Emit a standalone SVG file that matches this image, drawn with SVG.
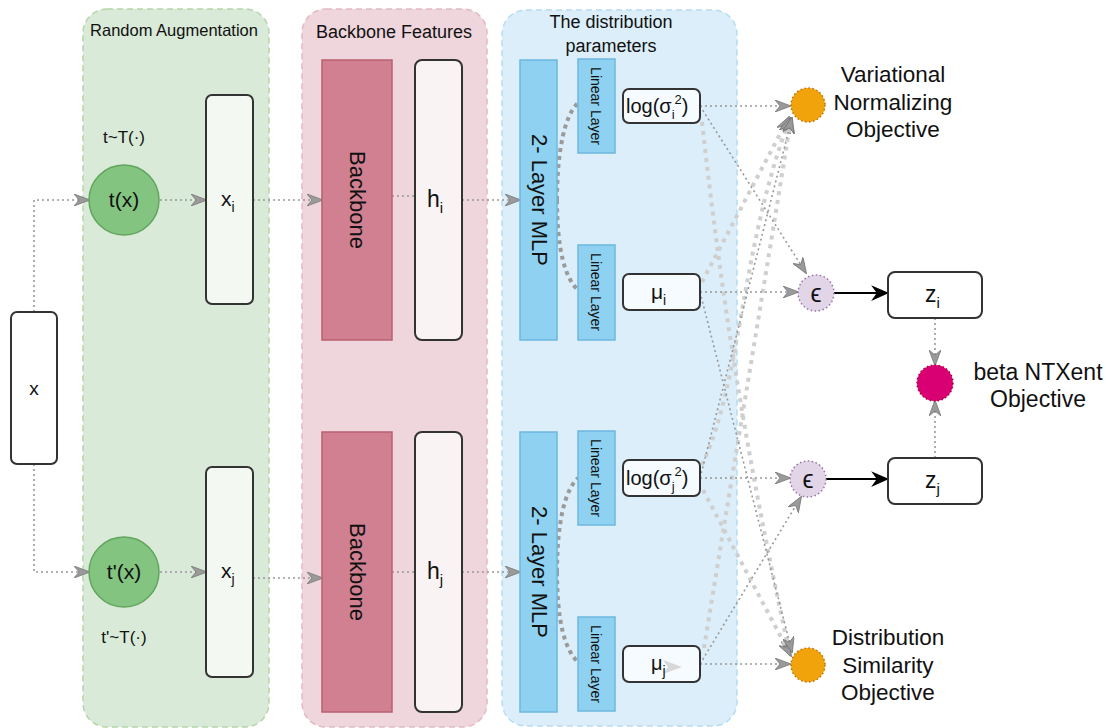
<svg xmlns="http://www.w3.org/2000/svg" width="1106" height="728" viewBox="0 0 1106 728">
  <defs>
    <style>
      text { font-family: "Liberation Sans", Arial, sans-serif; fill: #111; }
      .grp-green { fill: #d5e8d4; fill-opacity: 0.9; stroke: #b5d6a6; stroke-width: 1.5; stroke-dasharray: 6 4; }
      .grp-pink { fill: #efd6dc; stroke: #e3b9c2; stroke-width: 1.5; stroke-dasharray: 6 4; }
      .grp-blue { fill: #dbeef9; stroke: #b7dcf1; stroke-width: 1.5; stroke-dasharray: 6 4; }
      .box { stroke: #333; stroke-width: 2; }
      .backbone { fill: #d08090; stroke: #b86070; stroke-width: 1.5; }
      .mlp { fill: #8fd1f0; stroke: #6db7e0; stroke-width: 1.5; }
      .aug { fill: #83c480; stroke: #62a55e; stroke-width: 1.5; }
      .orange { fill: #f0a30a; stroke: #bd7000; stroke-width: 1.5; stroke-dasharray: 1.5 2.5; }
      .eps { fill: #e1d5e7; stroke: #9673a6; stroke-width: 1.5; stroke-dasharray: 1.5 2.5; }
      .beta { fill: #d80073; stroke: #a50040; stroke-width: 1.5; stroke-dasharray: 1.5 2.5; }
      .dot { fill: none; stroke: #999; stroke-width: 1.6; stroke-dasharray: 2 3; }
      .heavy { fill: none; stroke: #9a9a9a; stroke-width: 4; stroke-dasharray: 4 4; }
      .light { fill: none; stroke: #cfcfcf; stroke-width: 4; stroke-dasharray: 4 5; }
      .solid { fill: none; stroke: #000; stroke-width: 2; }
      .lbl { font-size: 21px; text-anchor: middle; }
      .vlbl { font-size: 22px; text-anchor: middle; dominant-baseline: central; }
      .lin { font-size: 14px; text-anchor: middle; dominant-baseline: central; }
      .obj { font-size: 22.5px; text-anchor: middle; }
      .title { font-size: 18px; text-anchor: middle; }
    </style>
    <marker id="arr" viewBox="0 0 16 12" refX="15" refY="6" markerWidth="16" markerHeight="12" markerUnits="userSpaceOnUse" orient="auto">
      <path d="M0,0 L16,6 L0,12 L5,6 Z" fill="#9a9a9a" stroke="#777" stroke-width="0.8"/>
    </marker>
    <marker id="arrBlack" viewBox="0 0 16 14" refX="15" refY="7" markerWidth="18" markerHeight="16" markerUnits="userSpaceOnUse" orient="auto">
      <path d="M0,0 L16,7 L0,14 L5,7 Z" fill="#000"/>
    </marker>
  </defs>

  <rect width="1106" height="728" fill="#fff"/>

  <!-- stage containers -->
  <g id="random-augmentation">
    <rect class="grp-green" x="83" y="9" width="186" height="718" rx="24"/>
    <text class="title" x="174" y="36" style="font-size:16.5px">Random Augmentation</text>
  </g>
  <g id="backbone-features">
    <rect class="grp-pink" x="302" y="9" width="185" height="718" rx="24"/>
    <text class="title" x="394" y="38">Backbone Features</text>
  </g>
  <g id="distribution-parameters">
    <rect class="grp-blue" x="502" y="10" width="235" height="716" rx="24"/>
    <text class="title" x="611" y="28">The distribution</text>
    <text class="title" x="611" y="52">parameters</text>
  </g>

  <!-- connectors -->
  <g id="connectors">
    <path class="dot" d="M34,312 V200 H89" marker-end="url(#arr)"/>
    <path class="dot" d="M34,464 V572 H89" marker-end="url(#arr)"/>
    <path class="dot" d="M160,200 H206" marker-end="url(#arr)"/>
    <path class="dot" d="M160,572 H206" marker-end="url(#arr)"/>
    <path class="dot" d="M253,200 H322" marker-end="url(#arr)"/>
    <path class="dot" d="M253,578 H322" marker-end="url(#arr)"/>
    <path class="dot" d="M392,196 H415"/>
    <path class="dot" d="M392,572 H415"/>
    <path class="dot" d="M462,200 H520" marker-end="url(#arr)"/>
    <path class="dot" d="M462,572 H520" marker-end="url(#arr)"/>

    <!-- MLP to linear heads -->
    <path class="heavy" d="M557,200 C557,150 565,115 578,103"/>
    <path class="heavy" d="M557,200 C557,250 565,278 578,290"/>
    <path class="heavy" d="M557,572 C557,522 565,490 578,478"/>
    <path class="heavy" d="M557,572 C557,622 565,650 578,662"/>

    <!-- wide pale links to the objectives -->
    <path class="light" d="M702,122 C722,300 745,450 790,655" marker-end="url(#arr)"/>
    <path class="light" d="M702,282 L789,117" marker-end="url(#arr)"/>
    <path class="light" d="M702,465 C742,380 740,250 790,118" marker-end="url(#arr)"/>
    <path class="light" d="M704,648 C728,500 762,300 791,118" marker-end="url(#arr)"/>
    <path class="light" d="M703,490 L791,656" marker-end="url(#arr)"/>

    <!-- thin links -->
    <path class="dot" d="M700,106 H790" marker-end="url(#arr)"/>
    <path class="dot" d="M700,106 L806,273" marker-end="url(#arr)"/>
    <path class="dot" d="M700,292 H798" marker-end="url(#arr)"/>
    <path class="dot" d="M700,292 L792,652" marker-end="url(#arr)"/>
    <path class="dot" d="M700,478 L792,118" marker-end="url(#arr)"/>
    <path class="dot" d="M700,478 H790" marker-end="url(#arr)"/>
    <path class="dot" d="M700,664 L801,497" marker-end="url(#arr)"/>
    <path class="dot" d="M700,664 H790" marker-end="url(#arr)"/>

    <!-- sampling to embeddings -->
    <path class="solid" d="M834,293 H888" marker-end="url(#arrBlack)"/>
    <path class="solid" d="M826,479 H888" marker-end="url(#arrBlack)"/>
    <path class="dot" d="M935,318 V365" marker-end="url(#arr)"/>
    <path class="dot" d="M935,458 V401" marker-end="url(#arr)"/>
  </g>

  <!-- input -->
  <g id="node-x">
    <rect class="box" x="11" y="312" width="46" height="152" rx="6" fill="#fff"/>
    <text class="lbl" x="34" y="395" style="font-size:19px">x</text>
  </g>

  <g id="node-t">
    <circle class="aug" cx="124" cy="200" r="35"/>
    <text class="lbl" x="124" y="207">t(x)</text>
    <text class="lbl" x="124" y="143" style="font-size:17px">t~T(·)</text>
  </g>
  <g id="node-t-prime">
    <circle class="aug" cx="124" cy="572" r="35"/>
    <text class="lbl" x="124" y="579">t'(x)</text>
    <text class="lbl" x="124" y="643" style="font-size:17px">t'~T(·)</text>
  </g>

  <g id="node-xi">
    <rect class="box" x="206" y="95" width="47" height="209" rx="6" fill="#f3f9f2"/>
    <text x="221" y="206" style="font-size:21px">x<tspan dy="6" style="font-size:14px">i</tspan></text>
  </g>
  <g id="node-xj">
    <rect class="box" x="206" y="467" width="47" height="210" rx="6" fill="#f3f9f2"/>
    <text x="221" y="578" style="font-size:21px">x<tspan dy="6" style="font-size:14px">j</tspan></text>
  </g>

  <!-- encoders -->
  <g id="backbone-i">
    <rect class="backbone" x="322" y="60" width="70" height="280"/>
    <text class="vlbl" transform="translate(357,200) rotate(90)">Backbone</text>
  </g>
  <g id="backbone-j">
    <rect class="backbone" x="322" y="432" width="70" height="280"/>
    <text class="vlbl" transform="translate(357,572) rotate(90)">Backbone</text>
  </g>
  <g id="node-hi">
    <rect class="box" x="415" y="60" width="47" height="280" rx="7" fill="#faf3f4"/>
    <text x="427" y="207" style="font-size:23px">h<tspan dy="6" style="font-size:15px">i</tspan></text>
  </g>
  <g id="node-hj">
    <rect class="box" x="415" y="432" width="47" height="280" rx="7" fill="#faf3f4"/>
    <text x="427" y="579" style="font-size:23px">h<tspan dy="6" style="font-size:15px">j</tspan></text>
  </g>

  <!-- projection heads -->
  <g id="mlp-i">
    <rect class="mlp" x="520" y="60" width="37" height="280"/>
    <text class="vlbl" transform="translate(539,200) rotate(90)">2- Layer MLP</text>
  </g>
  <g id="mlp-j">
    <rect class="mlp" x="520" y="432" width="37" height="280"/>
    <text class="vlbl" transform="translate(539,572) rotate(90)">2- Layer MLP</text>
  </g>
  <g id="linear-i-var">
    <rect class="mlp" x="578" y="59" width="37" height="94"/>
    <text class="lin" transform="translate(596,106) rotate(90)">Linear Layer</text>
  </g>
  <g id="linear-i-mu">
    <rect class="mlp" x="578" y="245" width="37" height="95"/>
    <text class="lin" transform="translate(596,292) rotate(90)">Linear Layer</text>
  </g>
  <g id="linear-j-var">
    <rect class="mlp" x="578" y="431" width="37" height="94"/>
    <text class="lin" transform="translate(596,478) rotate(90)">Linear Layer</text>
  </g>
  <g id="linear-j-mu">
    <rect class="mlp" x="578" y="617" width="37" height="94"/>
    <text class="lin" transform="translate(596,664) rotate(90)">Linear Layer</text>
  </g>

  <!-- distribution parameters -->
  <g id="logvar-i">
    <rect class="box" x="623" y="89" width="77" height="34" rx="6" fill="#f5fbfe"/>
    <text x="626" y="113" style="font-size:20px">log(σ<tspan dy="6" style="font-size:13px">i</tspan><tspan dy="-15" style="font-size:13px">2</tspan><tspan dy="9">)</tspan></text>
  </g>
  <g id="mu-i">
    <rect class="box" x="623" y="274" width="77" height="36" rx="6" fill="#f5fbfe"/>
    <text x="651" y="299" style="font-size:21px">μ<tspan dy="6" style="font-size:14px">i</tspan></text>
  </g>
  <g id="logvar-j">
    <rect class="box" x="623" y="460" width="77" height="36" rx="6" fill="#f5fbfe"/>
    <text x="626" y="485" style="font-size:20px">log(σ<tspan dy="6" style="font-size:13px">j</tspan><tspan dy="-15" style="font-size:13px">2</tspan><tspan dy="9">)</tspan></text>
  </g>
  <g id="mu-j">
    <rect class="box" x="623" y="646" width="77" height="36" rx="6" fill="#f5fbfe"/>
    <path d="M663,660 L682,667 L663,674 L668,667 Z" fill="#d8d8d8"/>
    <text x="651" y="670" style="font-size:20px">μ<tspan dy="6" style="font-size:14px">j</tspan></text>
  </g>

  <!-- objectives -->
  <g id="vno">
    <circle class="orange" cx="808" cy="105" r="17"/>
    <text class="obj" x="893" y="82">Variational</text>
    <text class="obj" x="893" y="110">Normalizing</text>
    <text class="obj" x="893" y="137">Objective</text>
  </g>
  <g id="dso">
    <circle class="orange" cx="808" cy="665" r="17"/>
    <text class="obj" x="888" y="645">Distribution</text>
    <text class="obj" x="888" y="673">Similarity</text>
    <text class="obj" x="888" y="700">Objective</text>
  </g>

  <!-- reparameterised samples -->
  <g id="eps-i">
    <circle class="eps" cx="816" cy="293" r="18"/>
    <text class="lbl" x="816" y="302" style="font-size:25px">ϵ</text>
  </g>
  <g id="eps-j">
    <circle class="eps" cx="808" cy="479" r="18"/>
    <text class="lbl" x="808" y="488" style="font-size:25px">ϵ</text>
  </g>
  <g id="node-zi">
    <rect class="box" x="888" y="272" width="94" height="46" rx="7" fill="#fff"/>
    <text x="925" y="302" style="font-size:23px">z<tspan dy="6" style="font-size:15px">i</tspan></text>
  </g>
  <g id="node-zj">
    <rect class="box" x="888" y="458" width="94" height="46" rx="7" fill="#fff"/>
    <text x="925" y="488" style="font-size:23px">z<tspan dy="6" style="font-size:15px">j</tspan></text>
  </g>

  <g id="beta-ntxent">
    <circle class="beta" cx="935" cy="383" r="18"/>
    <text class="obj" x="1038" y="380" style="font-size:23px">beta NTXent</text>
    <text class="obj" x="1038" y="407" style="font-size:23px">Objective</text>
  </g>
</svg>
